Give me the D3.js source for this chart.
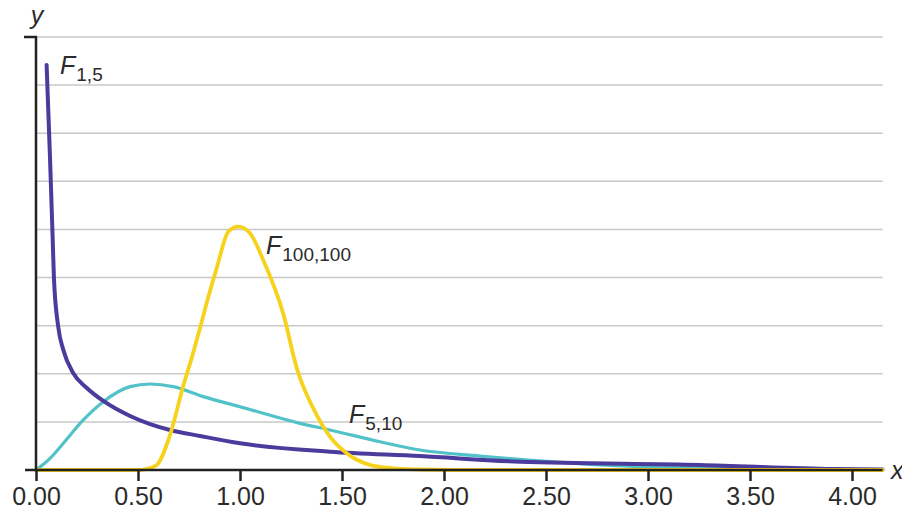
<!DOCTYPE html>
<html>
<head>
<meta charset="utf-8">
<script src="https://cdn.jsdelivr.net/npm/d3@7"></script>
<style>
  html, body { margin: 0; padding: 0; background: #fff; }
  svg { display: block; }
  text { font-family: "Liberation Sans", Arial, sans-serif; fill: #2b2b2b; }
</style>
</head>
<body>
<svg id="chart" width="902" height="519"></svg>
<script>
// ---- data ----
const xTicks = [0, 0.5, 1.0, 1.5, 2.0, 2.5, 3.0, 3.5, 4.0];
const gridValues = [0.4, 0.8, 1.2, 1.6, 2.0, 2.4, 2.8, 3.2, 3.6];

const f15X = [0.052, 0.069, 0.082, 0.088, 0.109, 0.134, 0.183, 0.249, 0.33, 0.461, 0.559, 0.657, 0.804, 1.0, 1.441, 1.882, 2.373, 3.255, 3.907, 4.15];
const f15Y = [3.368, 2.58, 1.91, 1.594, 1.19, 0.998, 0.804, 0.682, 0.574, 0.449, 0.382, 0.333, 0.283, 0.222, 0.152, 0.116, 0.069, 0.042, 0.008, 0.004];

const f510X = [0, 0.069, 0.134, 0.232, 0.33, 0.461, 0.559, 0.673, 0.82, 1.0, 1.294, 1.441, 1.686, 1.882, 2.176, 2.52, 2.765, 3.255, 3.745, 4.15];
const f510Y = [0, 0.097, 0.222, 0.416, 0.568, 0.693, 0.715, 0.693, 0.61, 0.526, 0.388, 0.333, 0.235, 0.166, 0.116, 0.069, 0.042, 0.017, 0.004, 0];

const f100X = [0, 0.494, 0.54, 0.592, 0.657, 0.722, 0.763, 0.804, 0.845, 0.886, 0.943, 0.992, 1.049, 1.114, 1.212, 1.278, 1.376, 1.441, 1.523, 1.637, 1.752, 1.88, 2.03, 4.15];
const f100Y = [0, 0, 0.008, 0.042, 0.291, 0.70, 0.93, 1.18, 1.44, 1.68, 1.982, 2.023, 1.968, 1.746, 1.30, 0.848, 0.457, 0.277, 0.139, 0.042, 0.014, 0.004, 0, 0];

const seriesNames = ["F15", "F510", "F100"];
const seriesColors = ["#4a3b9c", "#52c2c9", "#f6d21c"];
const seriesWidths = [4, 3.2, 3.8];

// ---- chart ----
const svg = d3.select("#chart");
const x = d3.scaleLinear().domain([0, 4.15]).range([36, 882.6]);
const y = d3.scaleLinear().domain([0, 3.6]).range([470, 37]);

// gridlines
svg.append("g").selectAll("line").data(gridValues).join("line")
  .attr("x1", x(0)).attr("x2", x(4.15))
  .attr("y1", d => y(d)).attr("y2", d => y(d))
  .attr("stroke", "#c8c8c8").attr("stroke-width", 1.5);

// curves
const series = [
  d3.zip(f15X, f15Y),
  d3.zip(f510X, f510Y),
  d3.zip(f100X, f100Y)
];
const line = d3.line().x(d => x(d[0])).y(d => y(d[1])).curve(d3.curveMonotoneX);
// draw order: cyan, purple, yellow
[1, 0, 2].forEach(i => {
  svg.append("path").datum(series[i])
    .attr("d", line)
    .attr("fill", "none")
    .attr("stroke", seriesColors[i])
    .attr("stroke-width", seriesWidths[i])
    .attr("stroke-linejoin", "round")
    .attr("stroke-linecap", "round");
});

// x axis
const xAxis = d3.axisBottom(x).tickValues(xTicks).tickFormat(d3.format(".2f"))
  .tickSize(11).tickPadding(6);
const gx = svg.append("g").attr("transform", "translate(0,470)").call(xAxis);
gx.select(".domain").remove();
gx.selectAll(".tick line").attr("stroke", "#222").attr("stroke-width", 2.5);
gx.selectAll(".tick text")
  .attr("font-family", "Liberation Sans, Arial, sans-serif")
  .attr("font-size", 25).attr("fill", "#2b2b2b");
svg.append("line").attr("x1", 25).attr("x2", x(4.15)).attr("y1", 470).attr("y2", 470)
  .attr("stroke", "#222").attr("stroke-width", 2.5);

// y axis
svg.append("line").attr("x1", 36).attr("x2", 36).attr("y1", 36).attr("y2", 471)
  .attr("stroke", "#222").attr("stroke-width", 2.5);
svg.append("line").attr("x1", 24).attr("x2", 37).attr("y1", 37).attr("y2", 37)
  .attr("stroke", "#222").attr("stroke-width", 2.5);

// axis labels
svg.append("text").attr("x", 37).attr("y", 24).attr("text-anchor", "middle")
  .attr("font-size", 25).attr("font-style", "italic").text("y");
svg.append("text").attr("x", 891).attr("y", 479)
  .attr("font-size", 25).attr("font-style", "italic").text("x");

// curve labels
const labels = [
  { main: "F", sub: "1,5", x: 60, y: 73.5 },
  { main: "F", sub: "100,100", x: 266, y: 253.5 },
  { main: "F", sub: "5,10", x: 349, y: 422.5 }
];
labels.forEach(l => {
  const t = svg.append("text").attr("x", l.x).attr("y", l.y).attr("font-size", 25);
  t.append("tspan").attr("font-style", "italic").text(l.main);
  t.append("tspan").attr("font-size", 19).attr("dy", 7).attr("dx", 1).text(l.sub);
});
</script>
</body>
</html>
